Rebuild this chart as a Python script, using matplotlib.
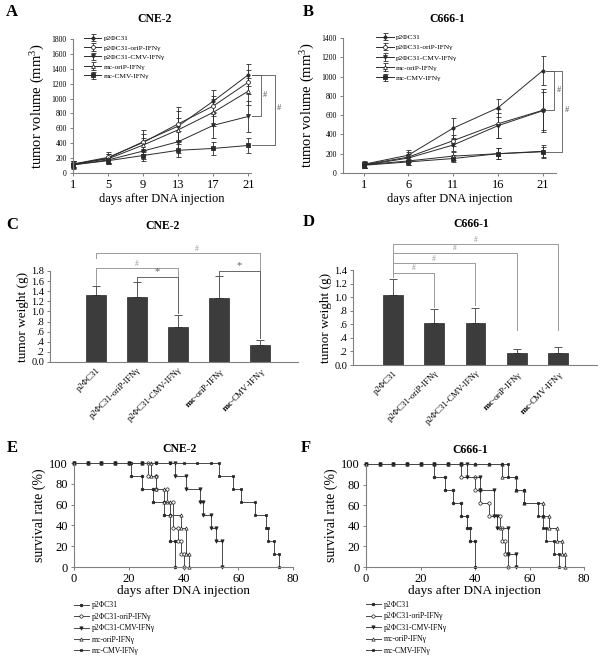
import numpy as np
import matplotlib
matplotlib.use("Agg")
import matplotlib.pyplot as plt
from matplotlib.ticker import FuncFormatter

plt.rcParams['font.family'] = ['Liberation Serif', 'DejaVu Serif']
plt.rcParams['mathtext.fontset'] = 'custom'
plt.rcParams['mathtext.rm'] = 'Liberation Serif'
plt.rcParams['mathtext.it'] = 'Liberation Serif:italic'
plt.rcParams['mathtext.bf'] = 'Liberation Serif:bold'

# ---- data ----
groups = ['p2ΦC31', 'p2ΦC31-oriP-IFNγ', 'p2ΦC31-CMV-IFNγ', 'mc-oriP-IFNγ', 'mc-CMV-IFNγ']
bar_labels = ['p2ΦC31', 'p2ΦC31-oriP-IFNγ', 'p2ΦC31-CMV-IFNγ',
              r'$\mathbf{mc}$-oriP-IFNγ', r'$\mathbf{mc}$-CMV-IFNγ']

# A: tumor volume CNE-2
days_a = [1, 5, 9, 13, 17, 21]
vol_a_p2 = [115, 200, 420, 630, 965, 1320]
vol_a_orip = [120, 210, 410, 660, 900, 1220]
vol_a_cmv = [110, 175, 295, 420, 640, 760]
vol_a_mcorip = [120, 190, 375, 580, 815, 1100]
vol_a_mccmv = [110, 165, 235, 305, 330, 370]
err_a_p2 = [50, 60, 160, 200, 150, 150]
err_a_orip = [45, 75, 120, 230, 130, 160]
err_a_cmv = [40, 60, 110, 150, 170, 210]
err_a_mcorip = [45, 60, 90, 160, 180, 180]
err_a_mccmv = [50, 50, 80, 90, 90, 95]

# B: tumor volume C666-1
days_b = [1, 6, 11, 16, 21]
vol_b_p2 = [90, 185, 465, 675, 1060]
vol_b_orip = [85, 165, 335, 510, 650]
vol_b_cmv = [80, 155, 290, 490, 645]
vol_b_mcorip = [85, 125, 175, 200, 225]
vol_b_mccmv = [80, 115, 150, 200, 220]
err_b_p2 = [30, 50, 105, 90, 150]
err_b_orip = [30, 50, 60, 150, 220]
err_b_cmv = [30, 40, 60, 130, 200]
err_b_mcorip = [30, 40, 45, 60, 70]
err_b_mccmv = [30, 35, 35, 60, 50]

# C / D: tumor weight
weight_c = [1.32, 1.29, 0.70, 1.27, 0.33]
weight_c_err = [0.18, 0.29, 0.23, 0.43, 0.11]
weight_d = [1.03, 0.62, 0.62, 0.17, 0.18]
weight_d_err = [0.24, 0.20, 0.22, 0.06, 0.08]

# E: survival CNE-2
surv_days_e_p2 = [0, 5, 10, 15, 20, 21, 25, 29, 33, 35, 37]
surv_e_p2 = [100, 100, 100, 100, 100, 87.5, 75, 62.5, 50, 25, 0]
surv_days_e_orip = [0, 5, 10, 15, 20, 25, 27, 30, 34, 36, 38, 39, 40]
surv_e_orip = [100, 100, 100, 100, 100, 100, 87.5, 75, 62.5, 37.5, 25, 12.5, 0]
surv_days_e_cmv = [0, 5, 10, 15, 20, 25, 30, 35, 37, 41, 46, 47, 50, 52, 54]
surv_e_cmv = [100, 100, 100, 100, 100, 100, 100, 100, 87.5, 75, 62.5, 50, 37.5, 25, 0]
surv_days_e_mcorip = [0, 5, 10, 15, 20, 25, 28, 30, 33, 35, 39, 41, 42]
surv_e_mcorip = [100, 100, 100, 100, 100, 100, 87.5, 75, 62.5, 50, 37.5, 12.5, 0]
surv_days_e_mccmv = [0, 5, 10, 15, 20, 25, 30, 35, 40, 45, 50, 53, 58, 61, 66, 70, 71, 73, 75]
surv_e_mccmv = [100] * 11 + [87.5, 75, 62.5, 50, 37.5, 25, 12.5, 0]

# F: survival C666-1
surv_days_f_p2 = [0, 5, 10, 15, 20, 25, 29, 32, 35, 37, 38, 40]
surv_f_p2 = [100] * 5 + [87.5, 75, 62.5, 50, 37.5, 25, 0]
surv_days_f_orip = [0, 5, 10, 15, 20, 25, 30, 35, 40, 42, 45, 49, 50, 51, 52]
surv_f_orip = [100] * 7 + [87.5, 75, 62.5, 50, 37.5, 25, 12.5, 0]
surv_days_f_cmv = [0, 5, 10, 15, 20, 25, 30, 35, 37, 42, 47, 48, 52, 55]
surv_f_cmv = [100] * 8 + [87.5, 75, 50, 37.5, 12.5, 0]
surv_days_f_mcorip = [0, 5, 10, 15, 20, 25, 30, 35, 40, 45, 50, 55, 58, 65, 67, 70, 72, 73]
surv_f_mcorip = [100] * 10 + [87.5, 75, 62.5, 50, 37.5, 25, 12.5, 0]
surv_days_f_mccmv = [0, 5, 10, 15, 20, 25, 30, 35, 40, 45, 50, 52, 55, 58, 63, 65, 66, 69, 71]
surv_f_mccmv = [100] * 11 + [87.5, 75, 62.5, 50, 37.5, 25, 12.5, 0]

# ---- styles ----
W, H = 603, 659
LC = '#2b2b2b'
SPINE = '#808080'
styles = [dict(marker='o', mfc=LC, ms=2.3),
          dict(marker='o', mfc='white', ms=2.8),
          dict(marker='v', mfc=LC, ms=2.8),
          dict(marker='^', mfc='white', ms=2.8),
          dict(marker='s', mfc=LC, ms=2.4)]


def px_axes(l, t, r, b):
    return fig.add_axes([l / W, 1 - b / H, (r - l) / W, (b - t) / H])


def style_axes(ax):
    for s in ['top', 'right']:
        ax.spines[s].set_visible(False)
    for s in ['left', 'bottom']:
        ax.spines[s].set_color(SPINE)
        ax.spines[s].set_linewidth(0.8)
    ax.tick_params(color=SPINE, length=2.5, width=0.7, pad=2)


def growth_panel(ax, days, vals, errs, ymax, ystep):
    for v, e, st, lab in zip(vals, errs, styles, groups):
        ax.errorbar(days, v, yerr=e, color=LC, lw=0.7, elinewidth=0.6, capsize=1.8,
                    capthick=0.6, marker=st['marker'], ms=st['ms'], mfc=st['mfc'],
                    mec=LC, mew=0.6, label=lab, clip_on=False)
    style_axes(ax)
    ax.set_ylim(0, ymax)
    ax.set_yticks(np.arange(0, ymax + 1, ystep))
    ax.set_xticks(days)
    ax.tick_params(axis='y', labelsize=5.5)
    ax.tick_params(axis='x', labelsize=9)
    ax.set_xlabel('days after DNA injection', fontsize=9, labelpad=1)
    ax.set_ylabel('tumor volume (mm$^3$)', fontsize=10.5, labelpad=3)


def vbracket(ax, x0, xb, y1, y2, label, ly):
    ax.plot([x0, xb, xb, x0], [y1, y1, y2, y2], color='#555555', lw=0.6, clip_on=False)
    ax.text(xb + 0.25, ly, label, fontsize=6, color='#555555', ha='left', va='center')


def bar_panel(ax, vals, errs, ymax, xlim):
    x = np.arange(len(vals))
    ax.bar(x, vals, width=0.48, color='#3c3c3c', edgecolor='#2a2a2a', lw=0.5, zorder=2)
    ax.errorbar(x, vals, yerr=[np.zeros(len(errs)), errs], fmt='none', ecolor='#555555',
                elinewidth=0.7, capsize=3, capthick=0.7, zorder=1)
    style_axes(ax)
    ax.set_xlim(*xlim)
    ax.set_ylim(0, ymax)
    ax.set_yticks(np.arange(0, ymax + 0.01, 0.2))
    ax.yaxis.set_major_formatter(FuncFormatter(
        lambda v, p: '0.0' if abs(v) < 1e-9 else ('%.1f' % v).lstrip('0')))
    ax.tick_params(axis='y', labelsize=7.5, pad=1.5)
    ax.tick_params(axis='x', length=0, pad=3)
    ax.set_xticks(x)
    ax.set_xticklabels(bar_labels, rotation=45, ha='right', rotation_mode='anchor', fontsize=6.3)
    ax.set_ylabel('tumor weight (g)', fontsize=9.5, labelpad=2)


def hbracket(ax, x1, x2, y, y1, y2, label, col, fs, lx=None):
    ax.plot([x1, x1, x2, x2], [y1, y, y, y2], color=col, lw=0.7, clip_on=False)
    if lx is None:
        lx = (x1 + x2) / 2
    ax.text(lx, y + 0.01, label, fontsize=fs, color=col, ha='center', va='bottom', clip_on=False)


def survival_panel(ax, day_lists, surv_lists):
    for d, s, st, lab in zip(day_lists, surv_lists, styles, groups):
        xs, ys = [d[0]], [s[0]]
        for i in range(1, len(d)):
            if s[i] != s[i - 1]:
                xs.append(d[i]); ys.append(s[i - 1])
            xs.append(d[i]); ys.append(s[i])
        ax.plot(xs, ys, color='#4a4a4a', lw=0.7, marker=st['marker'], ms=st['ms'] * 0.85,
                mfc=st['mfc'], mec='#1a1a1a', mew=0.5, label=lab, clip_on=False)
    style_axes(ax)
    ax.set_xlim(0, 80)
    ax.set_ylim(0, 100)
    ax.set_xticks([0, 20, 40, 60, 80])
    ax.set_yticks([0, 20, 40, 60, 80, 100])
    ax.tick_params(labelsize=9)
    ax.set_xlabel('days after DNA injection', fontsize=9.5, labelpad=0)
    ax.set_ylabel('survival rate (%)', fontsize=10, labelpad=2)


fig = plt.figure(figsize=(W / 100, H / 100), dpi=100)

# ---- A ----
axA = px_axes(73, 39, 251, 173)
growth_panel(axA, days_a,
             [vol_a_p2, vol_a_orip, vol_a_cmv, vol_a_mcorip, vol_a_mccmv],
             [err_a_p2, err_a_orip, err_a_cmv, err_a_mcorip, err_a_mccmv], 1800, 200)
axA.set_xlim(1, 21.3)
axA.legend(loc='upper left', bbox_to_anchor=(0.06, 1.03), frameon=False, fontsize=5.3,
           handlelength=2.4, handletextpad=0.3, labelspacing=0.45, borderpad=0, borderaxespad=0)
vbracket(axA, 21.4, 22.4, vol_a_p2[-1], vol_a_cmv[-1], '#', 1050)
vbracket(axA, 21.4, 24.0, vol_a_p2[-1], vol_a_mccmv[-1], '#', 870)

# ---- B ----
axB = px_axes(343, 38, 556, 173)
growth_panel(axB, days_b,
             [vol_b_p2, vol_b_orip, vol_b_cmv, vol_b_mcorip, vol_b_mccmv],
             [err_b_p2, err_b_orip, err_b_cmv, err_b_mcorip, err_b_mccmv], 1400, 200)
axB.set_xlim(-1.3, 22.5)
axB.legend(loc='upper left', bbox_to_anchor=(0.155, 1.03), frameon=False, fontsize=5.3,
           handlelength=2.4, handletextpad=0.3, labelspacing=0.55, borderpad=0, borderaxespad=0)
vbracket(axB, 21.4, 22.3, vol_b_p2[-1], vol_b_orip[-1], '#', 860)
vbracket(axB, 21.4, 23.2, vol_b_p2[-1], vol_b_mccmv[-1], '#', 650)

# ---- C ----
axC = px_axes(50, 271, 298, 362)
bar_panel(axC, weight_c, weight_c_err, 1.8, (-1.12, 4.93))
GR = '#9a9a9a'
hbracket(axC, 0, 4, 2.15, 2.05, 0.47, '#', GR, 5.5, lx=2.47)
hbracket(axC, 0, 2, 1.85, 1.53, 0.96, '#', GR, 5.5)
hbracket(axC, 1, 2, 1.69, 1.61, 0.96, '*', '#666666', 7.5)
hbracket(axC, 3, 4, 1.80, 1.72, 0.47, '*', '#666666', 7.5)

# ---- D ----
axD = px_axes(353, 270, 597, 365)
bar_panel(axD, weight_d, weight_d_err, 1.4, (-0.97, 4.95))
hbracket(axD, 0, 1, 1.36, 1.29, 0.86, '#', GR, 5.5)
hbracket(axD, 0, 2, 1.50, 1.29, 0.88, '#', GR, 5.5)
hbracket(axD, 0, 3, 1.65, 1.29, 0.52, '#', GR, 5.5)
hbracket(axD, 0, 4, 1.78, 1.29, 0.52, '#', GR, 5.5)

# ---- E ----
axE = px_axes(74, 463, 293, 567)
survival_panel(axE, [surv_days_e_p2, surv_days_e_orip, surv_days_e_cmv, surv_days_e_mcorip, surv_days_e_mccmv],
               [surv_e_p2, surv_e_orip, surv_e_cmv, surv_e_mcorip, surv_e_mccmv])
axE.legend(loc='upper left', bbox_to_anchor=(0.0, -0.33), frameon=False, fontsize=5.5,
           handlelength=1.9, handletextpad=0.4, labelspacing=0.45, borderpad=0, borderaxespad=0)

# ---- F ----
axF = px_axes(366, 464, 584, 567)
survival_panel(axF, [surv_days_f_p2, surv_days_f_orip, surv_days_f_cmv, surv_days_f_mcorip, surv_days_f_mccmv],
               [surv_f_p2, surv_f_orip, surv_f_cmv, surv_f_mcorip, surv_f_mccmv])
axF.legend(loc='upper left', bbox_to_anchor=(0.0, -0.33), frameon=False, fontsize=5.5,
           handlelength=1.9, handletextpad=0.4, labelspacing=0.45, borderpad=0, borderaxespad=0)

# ---- titles and panel letters ----
titles = [('CNE-2', 155, 19), ('C666-1', 447, 19), ('CNE-2', 163, 226),
          ('C666-1', 471, 224), ('CNE-2', 180, 449), ('C666-1', 470, 450)]
for t, x, y in titles:
    fig.text(x / W, 1 - y / H, t, fontsize=8.5, fontweight='bold', ha='center', va='center')
letters = [('A', 12, 12), ('B', 308, 12), ('C', 12, 225), ('D', 309, 222), ('E', 12, 448), ('F', 306, 448)]
for t, x, y in letters:
    fig.text(x / W, 1 - y / H, t, fontsize=12, fontweight='bold', ha='center', va='center')

fig.savefig('out.png', dpi=100)
